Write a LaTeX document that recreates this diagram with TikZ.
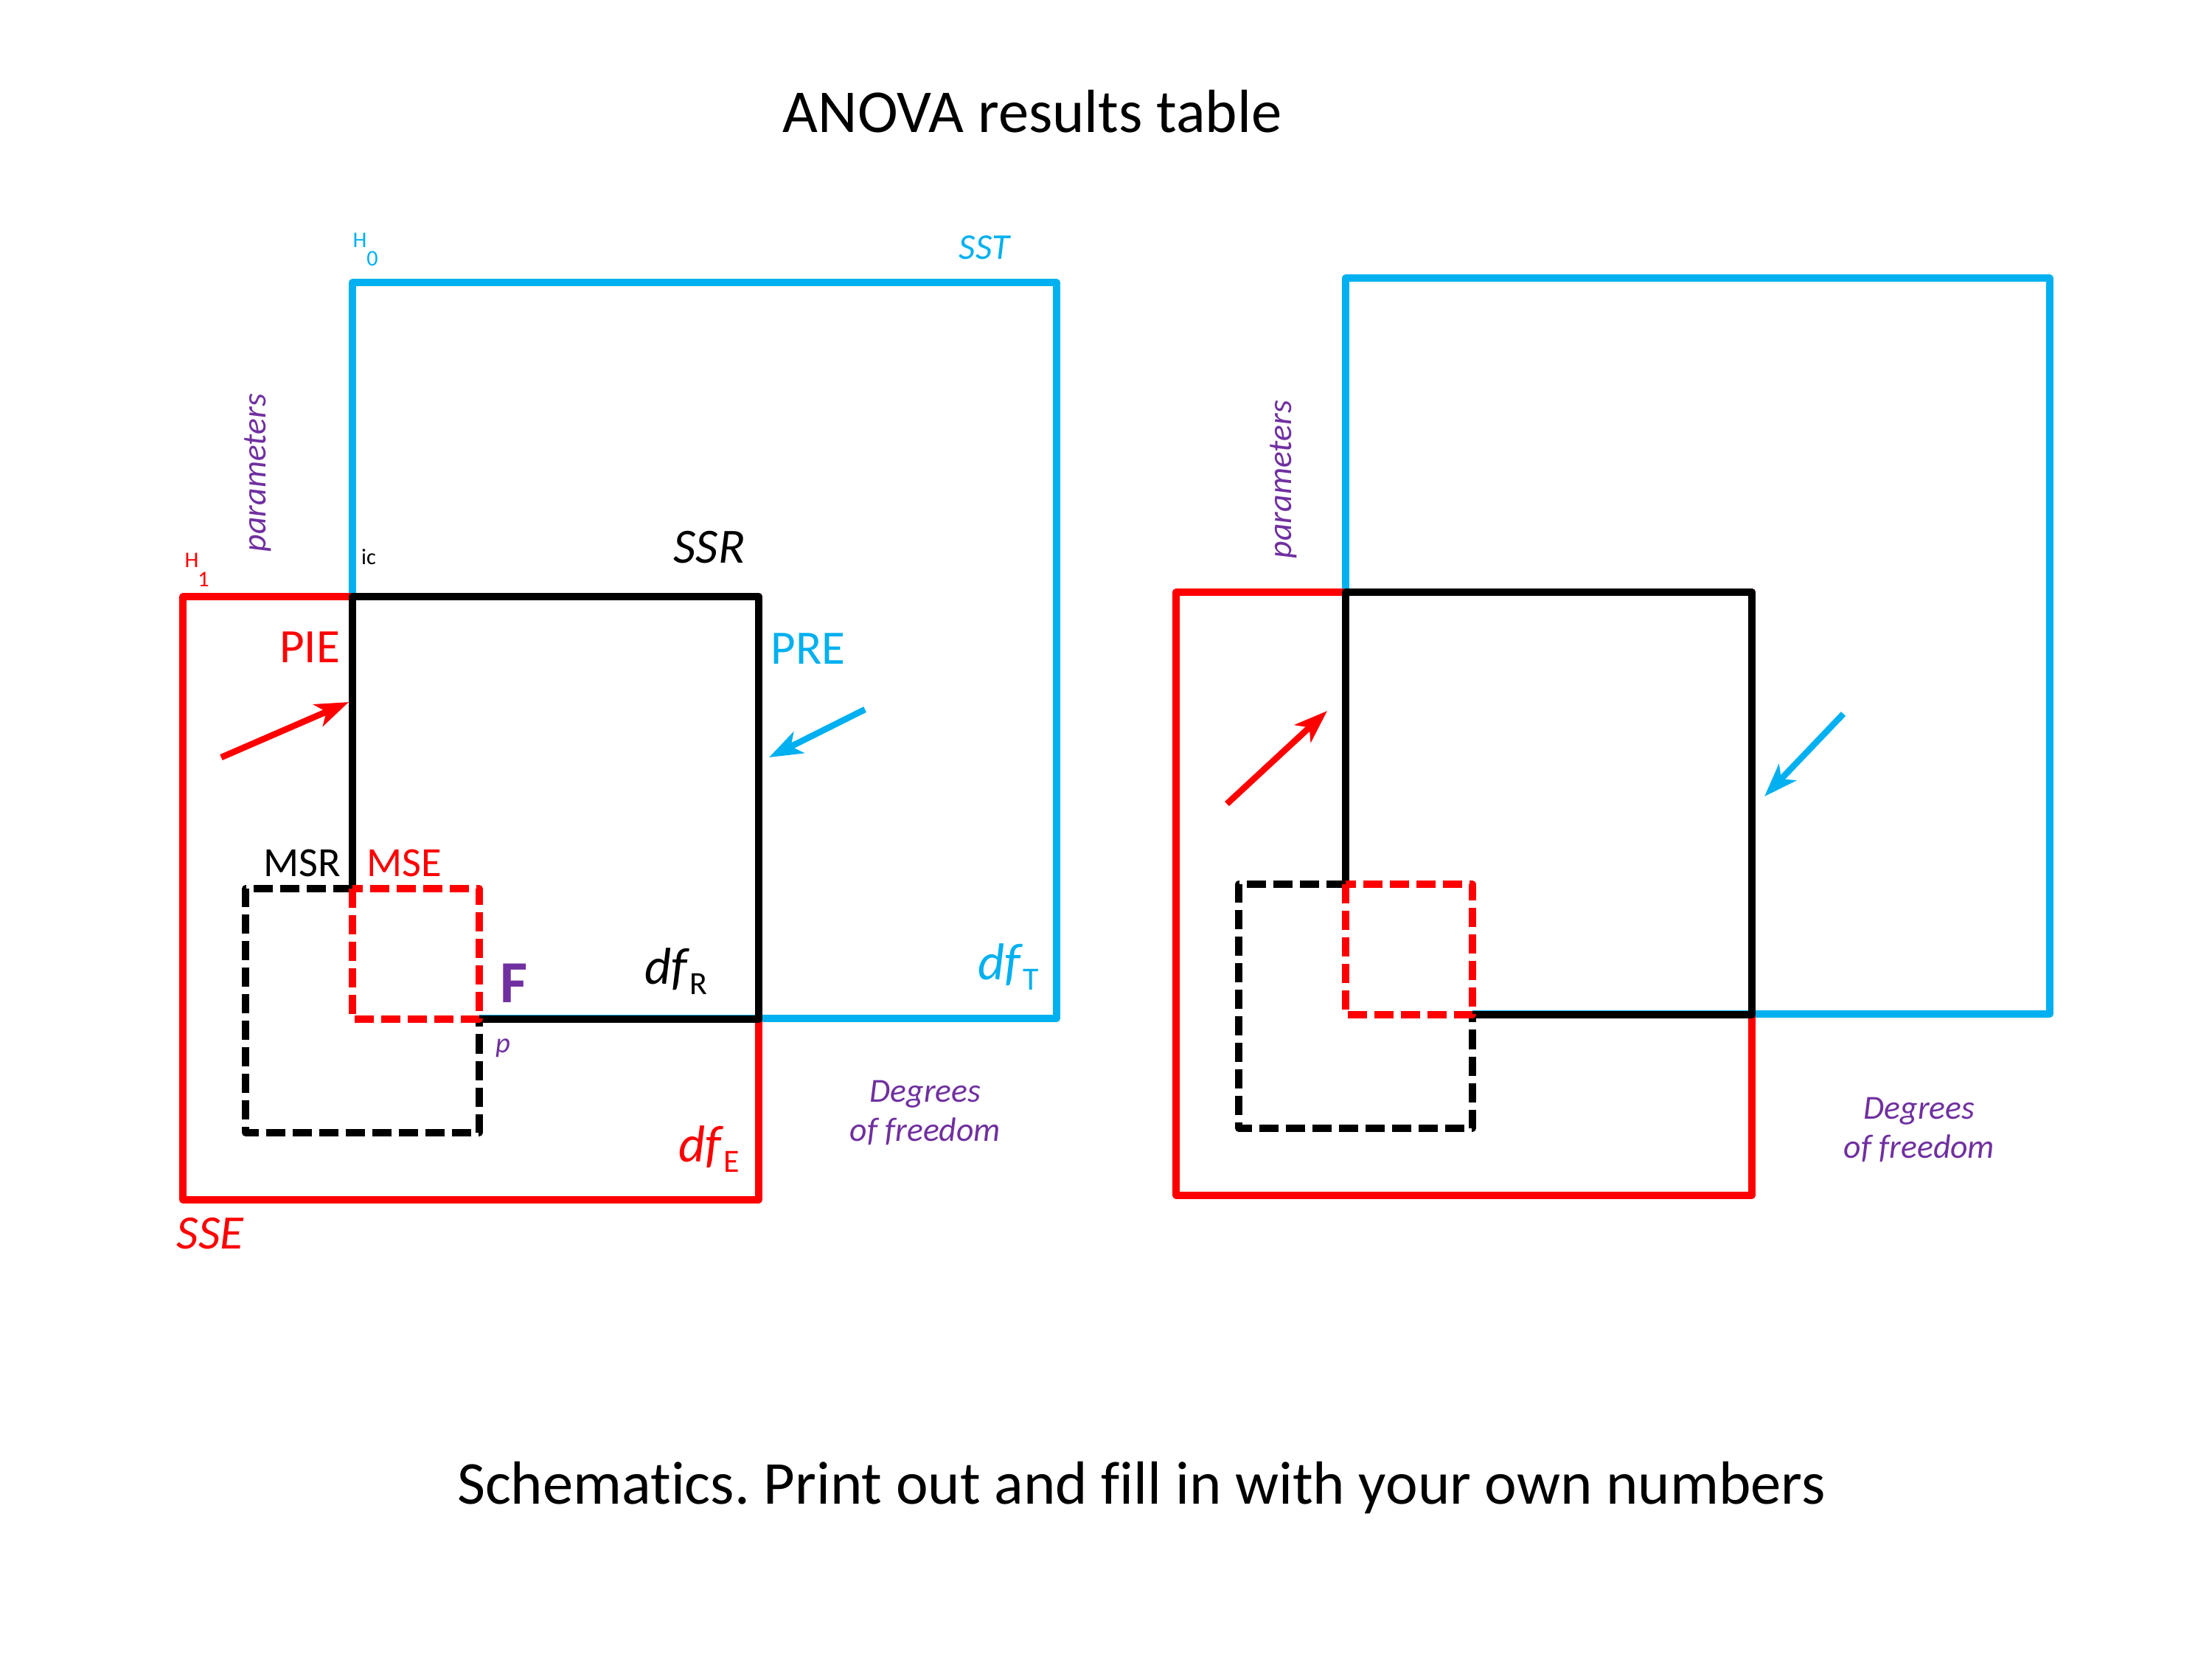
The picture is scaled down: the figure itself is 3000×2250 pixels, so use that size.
\documentclass[tikz,border=0pt]{standalone}
\usepackage{fontspec}
\setmainfont{Carlito}[Ligatures=NoCommon]
\usetikzlibrary{arrows.meta}
\definecolor{sky}{RGB}{0,176,240}
\definecolor{purp}{RGB}{112,48,160}
\definecolor{rd}{RGB}{255,0,0}
\newcommand{\fs}[1]{\fontsize{#1pt}{1.2\dimexpr#1pt\relax}\selectfont}
\frenchspacing
\begin{document}
\begin{tikzpicture}[x=0.01cm,y=-0.01cm,
  box/.style={line width=0.095cm, line join=round},
  dbox/.style={box, dash pattern=on 0.26cm off 0.1cm},
  arr/.style={line width=0.085cm, -{Stealth[length=0.45cm,width=0.32cm,inset=0.12cm]}},
  lbl/.style={inner sep=0pt, outer sep=0pt},
  small/.style={lbl, font=\fs{8.6}},
  param/.style={lbl, rotate=90, text=purp, font=\fs{13}\itshape},
  dof/.style={lbl, anchor=base, text=purp, font=\fs{13}\itshape},
  big/.style={lbl, font=\fs{18.5}},
  ms/.style={lbl, font=\fs{16}},
  dfl/.style={lbl, font=\fs{20}},
]
\useasboundingbox (0,0) rectangle (3000,2250);

% ---------- left diagram ----------
\draw[box, sky] (478,1205) -- (478,383) -- (1433,383) -- (1433,1381) -- (650,1381);
\draw[box, rd] (248,809) rectangle (1029,1627);
\draw[box, black] (478,1205) -- (478,809) -- (1029,809) -- (1029,1382) -- (650,1382);
\draw[dbox, black] (478,1205) -- (333,1205) -- (333,1536) -- (650,1536) -- (650,1382);
\draw[dbox, rd] (478,1205) rectangle (650,1382);

\coordinate (la1) at (300,1027); \coordinate (la2) at (473,952);
\coordinate (lb1) at (1173,962); \coordinate (lb2) at (1043,1027);
\draw[arr, rd] (la1) -- (la2);
\draw[arr, sky] (lb1) -- (lb2);

\node[lbl, font=\fs{23.5}] (title) at (1400,151) {ANOVA results table};
\node[small, text=sky] (h0a) at (488,326) {H};
\node[small, text=sky] (h0b) at (505,351) {0};
\node[lbl, text=sky, font=\fs{14}\itshape] (sst) at (1335,336) {SST};
\node[param] (parL) at (350,641) {parameters};
\node[small, text=rd] (h1a) at (260,760) {H};
\node[small, text=rd] (h1b) at (276,786) {1};
\node[small] (ic) at (500,755) {ic};
\node[big, font=\fs{19}\itshape] (ssr) at (962,742) {SSR};
\node[big, text=rd] (pie) at (420,878) {PIE};
\node[big, text=sky] (pre) at (1096,880) {PRE};
\node[ms] (msr) at (410,1170) {MSR};
\node[ms, text=rd] (mse) at (548,1170) {MSE};
\node[lbl, text=purp, font=\fs{23}\bfseries] (F) at (697,1333) {F};
\node[lbl, text=purp, font=\fs{11}\itshape] (p) at (682,1421) {p};
\node[dfl] (dfR) at (917,1317) {\textit{df}\raisebox{-4pt}{\fs{12.5}R}};
\node[dfl, text=sky] (dfT) at (1368,1311) {\textit{df}\raisebox{-4pt}{\fs{12.5}T}};
\node[dfl, text=rd] (dfE) at (962,1558) {\textit{df}\raisebox{-4pt}{\fs{12.5}E}};
\node[lbl, text=rd, font=\fs{18.5}\itshape] (sse) at (285,1673) {SSE};
\node[dof] (degL) at (1255,1494) {Degrees};
\node[dof] (ofL) at (1255,1547) {of freedom};

% ---------- right diagram ----------
\draw[box, sky] (1825,1199) -- (1825,377) -- (2780,377) -- (2780,1375) -- (1997,1375);
\draw[box, rd] (1595,803) rectangle (2376,1621);
\draw[box, black] (1825,1199) -- (1825,803) -- (2376,803) -- (2376,1376) -- (1997,1376);
\draw[dbox, black] (1825,1199) -- (1680,1199) -- (1680,1530) -- (1997,1530) -- (1997,1376);
\draw[dbox, rd] (1825,1199) rectangle (1997,1376);

\coordinate (ra1) at (1664,1090); \coordinate (ra2) at (1800,964);
\coordinate (rb1) at (2500,968); \coordinate (rb2) at (2393,1080);
\draw[arr, rd] (ra1) -- (ra2);
\draw[arr, sky] (rb1) -- (rb2);

\node[param] (parR) at (1741,650) {parameters};
\node[dof] (degR) at (2603,1517) {Degrees};
\node[dof] (ofR) at (2603,1570) {of freedom};

\node[lbl, font=\fs{23.5}] (foot) at (1548,2017) {Schematics. Print out and fill in with your own numbers};
\end{tikzpicture}
\end{document}
